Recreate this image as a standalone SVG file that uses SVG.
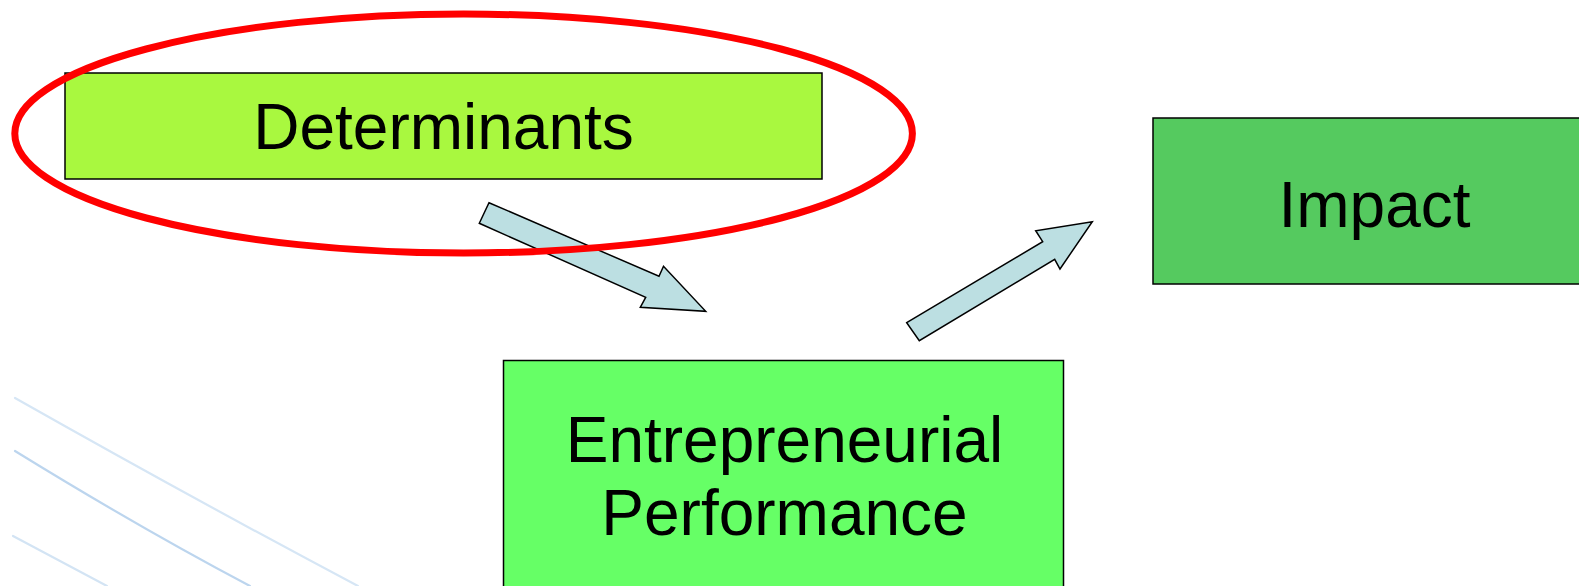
<svg xmlns="http://www.w3.org/2000/svg" width="1579" height="586" viewBox="0 0 1579 586">
<style>
.box{stroke:#000;stroke-width:1.5}
.lbl{font-family:"Liberation Sans",Arial,sans-serif;font-size:64px;fill:#000;text-anchor:middle}
.arr{fill:#bcdfe2;stroke:#000;stroke-width:1.5;stroke-linejoin:miter}
.bg{fill:none;stroke-width:2.2;stroke-linecap:round}
</style>
<rect width="1579" height="586" fill="#fff"/>
<g id="background">
<path class="bg" d="M15,398 Q190,497 358,586" stroke="#d6e6f5"/>
<path class="bg" d="M15,451 Q140,528 250,586" stroke="#bcd5ee"/>
<path class="bg" d="M13,536 Q60,561 107,586" stroke="#d3e4f4"/>
</g>
<g id="node-determinants">
<rect class="box" x="65" y="73" width="757" height="106" fill="#a9f83f"/>
<text class="lbl" x="443.5" y="149">Determinants</text>
</g>
<g id="node-impact">
<rect class="box" x="1153" y="118" width="440" height="166" fill="#55ca5f"/>
<text class="lbl" x="1374.5" y="226.5">Impact</text>
</g>
<g id="node-performance">
<rect class="box" x="503.5" y="360.5" width="560" height="240" fill="#66ff66"/>
<text class="lbl" x="784.5" y="462">Entrepreneurial</text>
<text class="lbl" x="784.5" y="535">Performance</text>
</g>
<g id="connectors">
<polygon class="arr" points="489,202.7 659,276.3 663.5,266.3 705.7,311.3 640.3,307.3 645.7,297.3 479.3,223.3"/>
<polygon class="arr" points="906.7,322.7 1042.7,241.7 1035.7,230.7 1092.3,221.7 1060,269 1054.7,259.3 919.3,340.7"/>
</g>
<g id="highlight">
<ellipse cx="463.6" cy="133.5" rx="448.8" ry="119.5" fill="none" stroke="#ff0000" stroke-width="7"/>
</g>
</svg>
